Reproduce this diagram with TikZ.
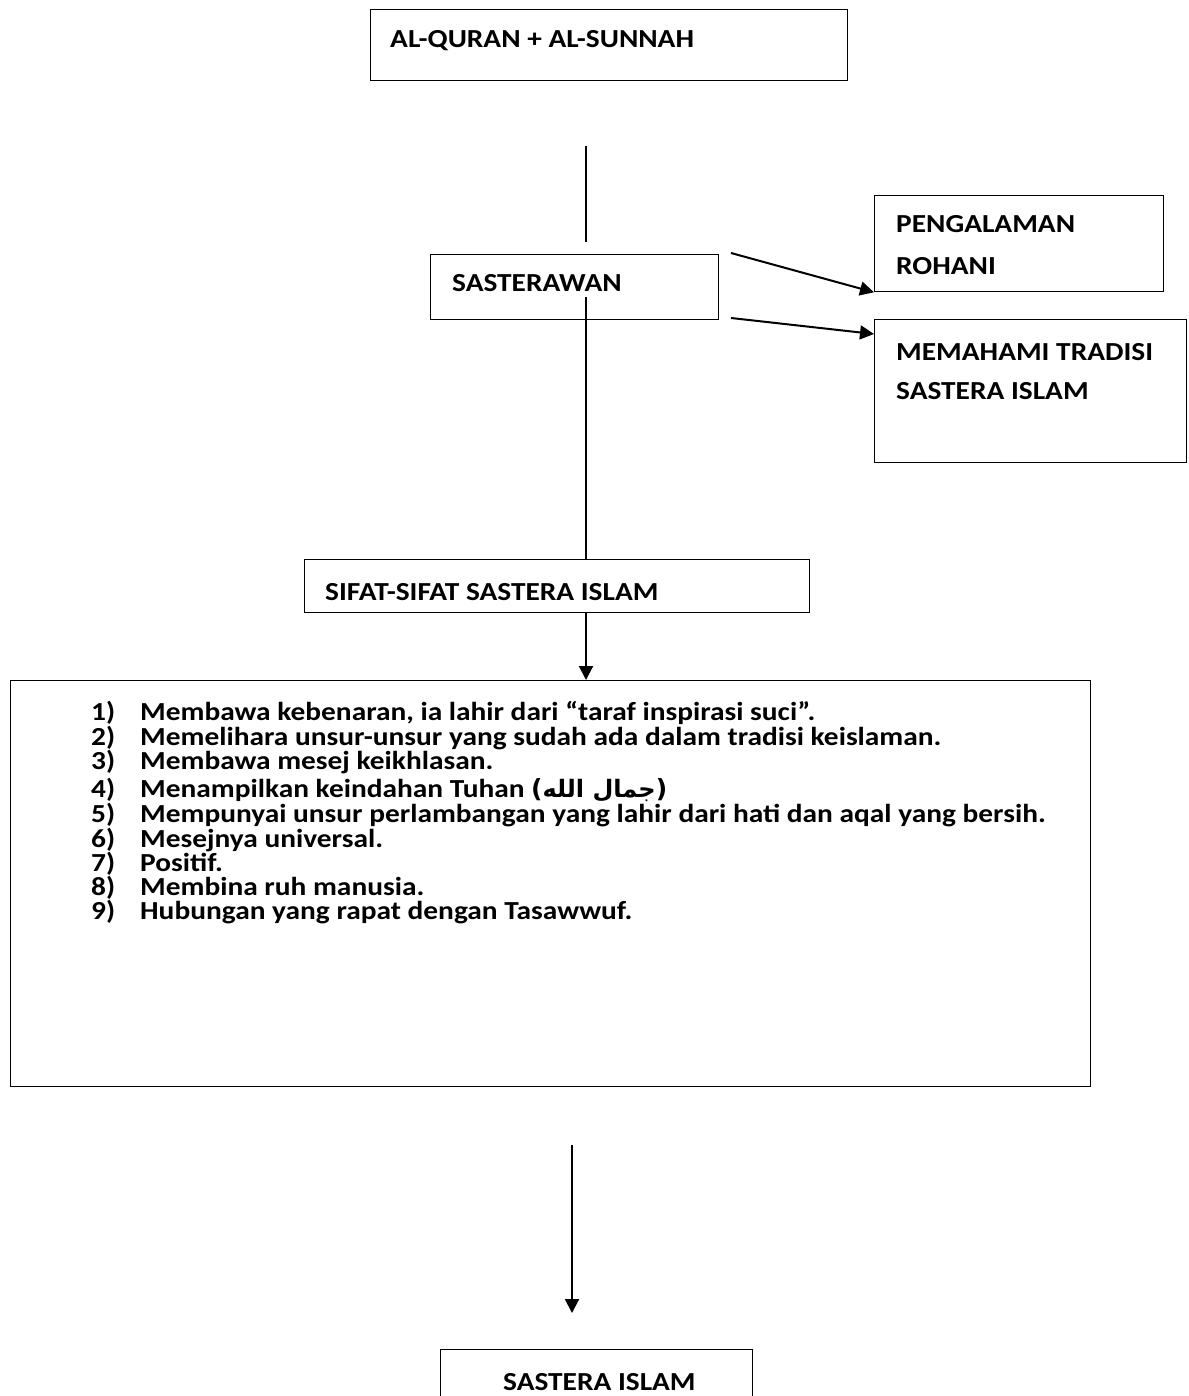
\documentclass[tikz,border=0pt]{standalone}
\usepackage{fontspec}
\setmainfont{Carlito}[FakeStretch=1.13]
\newfontfamily\arabicfont[Script=Arabic]{DejaVu Sans}
\newfontfamily\parenfont{DejaVu Sans}
\TeXXeTstate=1
\usetikzlibrary{arrows.meta}
\begin{document}
\begin{tikzpicture}[x=1pt,y=-1pt,
  box/.style={draw, line width=1.3pt, rectangle, inner sep=0pt, anchor=north west},
  txt/.style={anchor=base west, inner sep=0pt, font=\fontsize{26}{30}\selectfont\bfseries},
  thin/.style={line width=1.2pt},
  arr/.style={line width=2pt, -{Triangle[length=14pt,width=14pt]}}]
\useasboundingbox[fill=white] (0,0) rectangle (1188,1396);
% boxes
\node[box, minimum width=477pt, minimum height=71pt] (quran) at (370,9) {};
\node[box, minimum width=288pt, minimum height=65pt] (sast) at (430,254) {};
\node[box, minimum width=289pt, minimum height=96pt] (peng) at (874,195) {};
\node[box, minimum width=312pt, minimum height=143pt] (mem) at (874,319) {};
\node[box, minimum width=505pt, minimum height=53pt] (sifat) at (303.5,558.5) {};
\node[box, minimum width=1080pt, minimum height=406pt] (list) at (10,680) {};
\node[box, minimum width=312pt, minimum height=80pt] (si) at (440,1349) {};
% texts
\node[txt] (tquran) at (390,48) {AL-QURAN + AL-SUNNAH};
\node[txt] (tsast) at (452,292) {SASTERAWAN};
\node[txt] (tpeng1) at (896,233) {PENGALAMAN};
\node[txt] (tpeng2) at (896,275) {ROHANI};
\node[txt] (tmem1) at (896,360) {MEMAHAMI TRADISI};
\node[txt] (tmem2) at (896,399) {SASTERA ISLAM};
\node[txt] (tsifat) at (325,600) {SIFAT-SIFAT SASTERA ISLAM};
\node[txt] (tsi) at (503,1390) {SASTERA ISLAM};
% list
\foreach \n/\y/\t in {
  1/720/{Membawa kebenaran, ia lahir dari “taraf inspirasi suci”.},
  2/745/{Memelihara unsur-unsur yang sudah ada dalam tradisi keislaman.},
  3/769/{Membawa mesej keikhlasan.},
  5/822/{Mempunyai unsur perlambangan yang lahir dari hati dan aqal yang bersih.},
  6/847/{Mesejnya universal.},
  7/871/{Positif.},
  8/895/{Membina ruh manusia.},
  9/919/{Hubungan yang rapat dengan Tasawwuf.}} {
  \node[txt] (n\n) at (91,\y) {\n)};
  \node[txt] (i\n) at (140,\y) {\t};
}
\node[txt] (n4) at (91,797) {4)};
\node[txt] (i4) at (140,797) {Menampilkan keindahan Tuhan {\parenfont\fontsize{25}{28}\selectfont\bfseries(}{\arabicfont\fontsize{24}{28}\selectfont\bfseries\beginR جمال الله\endR}{\parenfont\fontsize{25}{28}\selectfont\bfseries)}};
% connectors
\coordinate (a1) at (586,146);
\coordinate (a2) at (586,242);
\draw[thin] (a1) -- (a2);
\coordinate (c3) at (586,297);
\draw[thin] (c3) -- (c3 |- sifat.north);
\draw[arr] (c3 |- sifat.south) -- (c3 |- list.north);
\coordinate (d1) at (731,253);
\coordinate (d2) at (731,318);
\coordinate (e2) at (874,334);
\draw[arr] (d1) -- (peng.south west);
\draw[arr] (d2) -- (e2);
\coordinate (b1) at (572,1145);
\coordinate (b2) at (572,1313);
\draw[arr] (b1) -- (b2);
\end{tikzpicture}
\end{document}
